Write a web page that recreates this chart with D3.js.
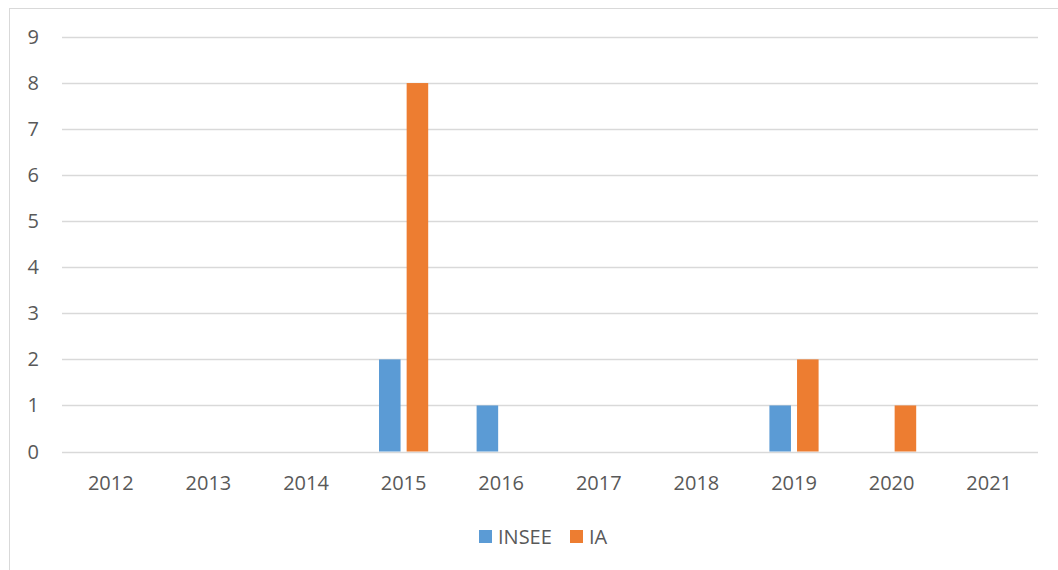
<!DOCTYPE html>
<html>
<head>
<meta charset="utf-8">
<script src="https://cdn.jsdelivr.net/npm/d3@7"></script>
<style>
  body { margin: 0; background: #fff; }
  svg { display: block; font-family: "Open Sans", sans-serif; }
</style>
</head>
<body>
<div id="chart"></div>
<script>
// data
var years = ["2012", "2013", "2014", "2015", "2016", "2017", "2018", "2019", "2020", "2021"];
var insee = [0, 0, 0, 2, 1, 0, 0, 1, 0, 0];
var ia = [0, 0, 0, 8, 0, 0, 0, 2, 1, 0];
var seriesNames = ["INSEE", "IA"];
var seriesColors = ["#5B9BD5", "#ED7D31"];
var yTicks = [0, 1, 2, 3, 4, 5, 6, 7, 8, 9];

var svgWidth = 1058, svgHeight = 570;
var margin = { top: 37, left: 62, right: 20, bottom: 118.5 };
var width = svgWidth - margin.left - margin.right;
var height = svgHeight - margin.top - margin.bottom;

var svg = d3.select("#chart").append("svg")
  .attr("width", svgWidth)
  .attr("height", svgHeight);

// outer chart border
svg.append("rect")
  .attr("x", 9.5).attr("y", 8.5)
  .attr("width", svgWidth).attr("height", svgHeight)
  .attr("fill", "none")
  .attr("stroke", "#d9d9d9");

var g = svg.append("g")
  .attr("transform", `translate(${margin.left}, ${margin.top})`);

var x = d3.scaleBand().domain(years).range([0, width]).paddingInner(0).paddingOuter(0);
var x1 = d3.scaleBand().domain(seriesNames).range([x.bandwidth() * 0.248, x.bandwidth() * 0.752]).paddingInner(0.22);
var y = d3.scaleLinear().domain([0, 9]).range([height, 0]);

// gridlines
g.selectAll("line.grid")
  .data(yTicks)
  .enter().append("line")
  .attr("class", "grid")
  .attr("x1", 0).attr("x2", width)
  .attr("y1", d => Math.round(y(d)) + 0.5)
  .attr("y2", d => Math.round(y(d)) + 0.5)
  .attr("stroke", "#d9d9d9")
  .attr("stroke-width", 1.5);

// y labels
g.selectAll("text.ylab")
  .data(yTicks)
  .enter().append("text")
  .attr("class", "ylab")
  .attr("x", -23)
  .attr("y", d => y(d))
  .attr("dy", "0.35em")
  .attr("text-anchor", "end")
  .attr("font-size", 20)
  .attr("fill", "#595959")
  .text(d => d);

// bars
var allSeries = [insee, ia];
allSeries.forEach(function(vals, si) {
  g.selectAll("rect.s" + si)
    .data(vals)
    .enter().append("rect")
    .attr("class", "s" + si)
    .attr("x", (d, i) => x(years[i]) + x1(seriesNames[si]))
    .attr("width", x1.bandwidth())
    .attr("y", d => y(d))
    .attr("height", d => y(0) - y(d))
    .attr("fill", seriesColors[si]);
});

// x labels
g.selectAll("text.xlab")
  .data(years)
  .enter().append("text")
  .attr("class", "xlab")
  .attr("x", d => x(d) + x.bandwidth() / 2)
  .attr("y", height + 31)
  .attr("dy", "0.35em")
  .attr("text-anchor", "middle")
  .attr("font-size", 20)
  .attr("fill", "#595959")
  .text(d => d);

// legend
var legendX = [479, 570];
var legend = svg.selectAll("g.legend")
  .data(seriesNames)
  .enter().append("g")
  .attr("class", "legend")
  .attr("transform", (d, i) => `translate(${legendX[i]}, 530)`);

legend.append("rect")
  .attr("width", 13).attr("height", 13)
  .attr("fill", (d, i) => seriesColors[i]);

legend.append("text")
  .attr("x", 19)
  .attr("y", 7)
  .attr("dy", "0.35em")
  .attr("font-size", 20)
  .attr("fill", "#595959")
  .text(d => d);
</script>
</body>
</html>
